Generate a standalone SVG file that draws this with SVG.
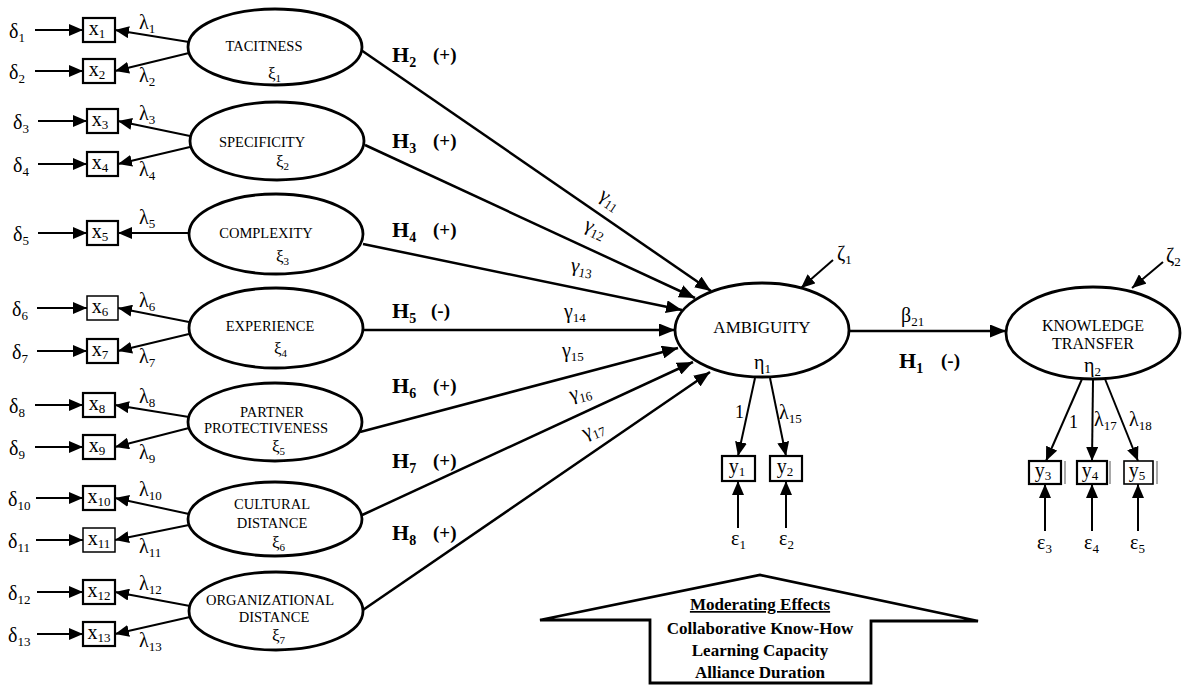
<svg xmlns="http://www.w3.org/2000/svg" width="1184" height="686" viewBox="0 0 1184 686">
<defs>
<style>
text{font-family:"Liberation Serif","Times New Roman",serif;fill:#000}
.el{fill:#fff;stroke:#000;stroke-width:2.8}
.bx{fill:#fff;stroke:#000;stroke-width:2.2}
.ln{stroke:#000;stroke-width:2;fill:none;marker-end:url(#ah)}
.pt{stroke:#000;stroke-width:2.5;fill:none;marker-end:url(#ahL)}
.gk{font-size:20px}
.sb{font-size:13px}
.xi{font-size:17px}
.xs{font-size:11px}
.cap{font-size:14.5px;text-anchor:middle}
.big{font-size:17px;text-anchor:middle}
.big2{font-size:16px;text-anchor:middle}
.ind{font-size:20px;text-anchor:middle}
.hb{font-size:22px;font-weight:bold}
.hs{font-size:14px;font-weight:bold}
.sg{font-size:19px;font-weight:bold}
.mod{font-size:17px;font-weight:bold;text-anchor:middle}
</style>
<marker id="ah" viewBox="0 0 14 12" refX="14" refY="6" markerWidth="14" markerHeight="12" markerUnits="userSpaceOnUse" orient="auto"><path d="M0,0 L14,6 L0,12 z"/></marker>
<marker id="ahL" viewBox="0 0 16 13" refX="16" refY="6.5" markerWidth="16" markerHeight="13" markerUnits="userSpaceOnUse" orient="auto"><path d="M0,0 L16,6.5 L0,13 z"/></marker>
</defs>
<rect width="1184" height="686" fill="#fff"/>

<g id="connectors">
<line class="ln" x1="35" y1="30" x2="83" y2="30"/>
<line class="ln" x1="35" y1="71" x2="83" y2="71"/>
<line class="ln" x1="38" y1="121" x2="87" y2="121"/>
<line class="ln" x1="38" y1="164" x2="87" y2="164"/>
<line class="ln" x1="38" y1="233" x2="87" y2="233"/>
<line class="ln" x1="37" y1="308" x2="87" y2="308"/>
<line class="ln" x1="37" y1="351" x2="87" y2="351"/>
<line class="ln" x1="35" y1="405" x2="83" y2="405"/>
<line class="ln" x1="35" y1="447" x2="83" y2="447"/>
<line class="ln" x1="36" y1="498" x2="83" y2="498"/>
<line class="ln" x1="36" y1="540" x2="83" y2="540"/>
<line class="ln" x1="37" y1="592" x2="83" y2="592"/>
<line class="ln" x1="37" y1="634" x2="83" y2="634"/>
<line class="ln" x1="189" y1="42" x2="115" y2="30"/>
<line class="ln" x1="189" y1="53" x2="115" y2="71"/>
<line class="ln" x1="190" y1="136" x2="118" y2="121"/>
<line class="ln" x1="190" y1="147" x2="118" y2="164"/>
<line class="ln" x1="189" y1="233" x2="118" y2="233"/>
<line class="ln" x1="189" y1="322" x2="118" y2="308"/>
<line class="ln" x1="189" y1="334" x2="118" y2="351"/>
<line class="ln" x1="189" y1="417" x2="115" y2="405"/>
<line class="ln" x1="189" y1="428" x2="115" y2="447"/>
<line class="ln" x1="189" y1="514" x2="115" y2="498"/>
<line class="ln" x1="189" y1="525" x2="115" y2="540"/>
<line class="ln" x1="190" y1="606" x2="115" y2="592"/>
<line class="ln" x1="190" y1="617" x2="115" y2="634"/>
<line class="pt" x1="361" y1="50" x2="711" y2="291"/>
<line class="pt" x1="365" y1="145" x2="695" y2="298"/>
<line class="pt" x1="363" y1="244" x2="682" y2="310"/>
<line class="pt" x1="362" y1="330" x2="675" y2="330"/>
<line class="pt" x1="360" y1="432" x2="678" y2="348"/>
<line class="pt" x1="360" y1="516" x2="693" y2="362"/>
<line class="pt" x1="360" y1="612" x2="710" y2="372"/>
<line class="pt" x1="850" y1="331" x2="1006" y2="331"/>
<line class="ln" x1="833" y1="260" x2="801" y2="288"/>
<line class="ln" x1="1163" y1="262" x2="1132" y2="288"/>
<line class="ln" x1="755" y1="378" x2="738" y2="456"/>
<line class="ln" x1="770" y1="378" x2="786" y2="456"/>
<line class="ln" x1="1082" y1="379" x2="1046" y2="461"/>
<line class="ln" x1="1093" y1="380" x2="1092" y2="461"/>
<line class="ln" x1="1105" y1="379" x2="1138" y2="461"/>
<line class="ln" x1="738" y1="528" x2="738" y2="481"/>
<line class="ln" x1="786" y1="528" x2="786" y2="481"/>
<line class="ln" x1="1045" y1="531" x2="1045" y2="484"/>
<line class="ln" x1="1092" y1="531" x2="1092" y2="484"/>
<line class="ln" x1="1138" y1="531" x2="1138" y2="484"/>
</g>

<g id="delta-labels">
<text class="gk" x="9" y="38">δ<tspan class="sb" dy="4">1</tspan></text>
<text class="gk" x="9" y="79">δ<tspan class="sb" dy="4">2</tspan></text>
<text class="gk" x="13" y="129">δ<tspan class="sb" dy="4">3</tspan></text>
<text class="gk" x="13" y="172">δ<tspan class="sb" dy="4">4</tspan></text>
<text class="gk" x="13" y="241">δ<tspan class="sb" dy="4">5</tspan></text>
<text class="gk" x="12" y="316">δ<tspan class="sb" dy="4">6</tspan></text>
<text class="gk" x="12" y="359">δ<tspan class="sb" dy="4">7</tspan></text>
<text class="gk" x="9" y="413">δ<tspan class="sb" dy="4">8</tspan></text>
<text class="gk" x="9" y="455">δ<tspan class="sb" dy="4">9</tspan></text>
<text class="gk" x="8" y="506">δ<tspan class="sb" dy="4">10</tspan></text>
<text class="gk" x="8" y="548">δ<tspan class="sb" dy="4">11</tspan></text>
<text class="gk" x="8" y="600">δ<tspan class="sb" dy="4">12</tspan></text>
<text class="gk" x="8" y="642">δ<tspan class="sb" dy="4">13</tspan></text>
</g>

<g id="lambda-labels">
<text class="gk" x="139" y="29">λ<tspan class="sb" dy="4">1</tspan></text>
<text class="gk" x="139" y="82">λ<tspan class="sb" dy="4">2</tspan></text>
<text class="gk" x="139" y="120">λ<tspan class="sb" dy="4">3</tspan></text>
<text class="gk" x="139" y="176">λ<tspan class="sb" dy="4">4</tspan></text>
<text class="gk" x="139" y="224">λ<tspan class="sb" dy="4">5</tspan></text>
<text class="gk" x="139" y="307">λ<tspan class="sb" dy="4">6</tspan></text>
<text class="gk" x="139" y="363">λ<tspan class="sb" dy="4">7</tspan></text>
<text class="gk" x="139" y="403">λ<tspan class="sb" dy="4">8</tspan></text>
<text class="gk" x="139" y="459">λ<tspan class="sb" dy="4">9</tspan></text>
<text class="gk" x="139" y="496">λ<tspan class="sb" dy="4">10</tspan></text>
<text class="gk" x="139" y="553">λ<tspan class="sb" dy="4">11</tspan></text>
<text class="gk" x="139" y="590">λ<tspan class="sb" dy="4">12</tspan></text>
<text class="gk" x="139" y="647">λ<tspan class="sb" dy="4">13</tspan></text>
</g>

<g id="x-indicators">
<rect class="bx" x="83" y="18" width="32" height="24"/><text class="ind" x="97" y="35">x<tspan class="sb" dy="3">1</tspan></text>
<rect class="bx" x="83" y="59" width="32" height="24"/><text class="ind" x="97" y="76">x<tspan class="sb" dy="3">2</tspan></text>
<rect class="bx" x="87" y="109" width="31" height="24"/><text class="ind" x="100" y="126">x<tspan class="sb" dy="3">3</tspan></text>
<rect class="bx" x="87" y="152" width="31" height="24"/><text class="ind" x="100" y="169">x<tspan class="sb" dy="3">4</tspan></text>
<rect class="bx" x="87" y="221" width="31" height="24"/><text class="ind" x="100" y="238">x<tspan class="sb" dy="3">5</tspan></text>
<rect class="bx" x="87" y="296" width="31" height="24" style="stroke-width:1.5"/><text class="ind" x="100" y="313">x<tspan class="sb" dy="3">6</tspan></text>
<rect class="bx" x="87" y="339" width="31" height="24"/><text class="ind" x="100" y="356">x<tspan class="sb" dy="3">7</tspan></text>
<rect class="bx" x="83" y="393" width="32" height="24"/><text class="ind" x="97" y="410">x<tspan class="sb" dy="3">8</tspan></text>
<rect class="bx" x="83" y="435" width="32" height="24"/><text class="ind" x="97" y="452">x<tspan class="sb" dy="3">9</tspan></text>
<rect class="bx" x="83" y="486" width="32" height="24"/><text class="ind" x="99" y="503">x<tspan class="sb" dy="3">10</tspan></text>
<rect class="bx" x="83" y="528" width="32" height="24" style="stroke-width:1.5"/><text class="ind" x="99" y="545">x<tspan class="sb" dy="3">11</tspan></text>
<rect class="bx" x="83" y="580" width="32" height="24"/><text class="ind" x="99" y="597">x<tspan class="sb" dy="3">12</tspan></text>
<rect class="bx" x="83" y="622" width="32" height="24"/><text class="ind" x="99" y="639">x<tspan class="sb" dy="3">13</tspan></text>
</g>

<g id="tacitness">
<ellipse class="el" cx="275" cy="47" rx="87" ry="38"/>
<text class="cap" x="264" y="51">TACITNESS</text>
<text class="xi" x="268" y="79">ξ<tspan class="xs" dy="3">1</tspan></text>
</g>
<g id="specificity">
<ellipse class="el" cx="277" cy="141" rx="87" ry="39"/>
<text class="cap" x="262" y="147">SPECIFICITY</text>
<text class="xi" x="276" y="167">ξ<tspan class="xs" dy="3">2</tspan></text>
</g>
<g id="complexity">
<ellipse class="el" cx="276" cy="234" rx="87" ry="40"/>
<text class="cap" x="266" y="238">COMPLEXITY</text>
<text class="xi" x="276" y="262">ξ<tspan class="xs" dy="3">3</tspan></text>
</g>
<g id="experience">
<ellipse class="el" cx="276" cy="328" rx="87" ry="40"/>
<text class="cap" x="270" y="331">EXPERIENCE</text>
<text class="xi" x="274" y="354">ξ<tspan class="xs" dy="3">4</tspan></text>
</g>
<g id="partner">
<ellipse class="el" cx="275" cy="422" rx="87" ry="39"/>
<text class="cap" x="272" y="417">PARTNER</text>
<text class="cap" x="266" y="433">PROTECTIVENESS</text>
<text class="xi" x="272" y="452">ξ<tspan class="xs" dy="3">5</tspan></text>
</g>
<g id="cultural">
<ellipse class="el" cx="275" cy="519" rx="87" ry="37"/>
<text class="cap" x="272" y="509">CULTURAL</text>
<text class="cap" x="272" y="528">DISTANCE</text>
<text class="xi" x="272" y="548">ξ<tspan class="xs" dy="3">6</tspan></text>
</g>
<g id="organizational">
<ellipse class="el" cx="276" cy="611" rx="87" ry="39"/>
<text class="cap" x="270" y="605">ORGANIZATIONAL</text>
<text class="cap" x="274" y="622">DISTANCE</text>
<text class="xi" x="272" y="641">ξ<tspan class="xs" dy="3">7</tspan></text>
</g>

<g id="hypotheses">
<text class="hb" x="392" y="62">H<tspan class="hs" dy="5">2</tspan></text><text class="sg" x="433" y="61">(+)</text>
<text class="hb" x="392" y="148">H<tspan class="hs" dy="5">3</tspan></text><text class="sg" x="433" y="147">(+)</text>
<text class="hb" x="392" y="237">H<tspan class="hs" dy="5">4</tspan></text><text class="sg" x="433" y="236">(+)</text>
<text class="hb" x="392" y="318">H<tspan class="hs" dy="5">5</tspan></text><text class="sg" x="431" y="317">(-)</text>
<text class="hb" x="392" y="393">H<tspan class="hs" dy="5">6</tspan></text><text class="sg" x="433" y="392">(+)</text>
<text class="hb" x="392" y="468">H<tspan class="hs" dy="5">7</tspan></text><text class="sg" x="433" y="467">(+)</text>
<text class="hb" x="392" y="540">H<tspan class="hs" dy="5">8</tspan></text><text class="sg" x="433" y="539">(+)</text>
</g>

<g id="gamma-labels">
<text class="gk" transform="translate(598,198) rotate(34)">γ<tspan class="sb" dy="4">11</tspan></text>
<text class="gk" transform="translate(583,229) rotate(25)">γ<tspan class="sb" dy="4">12</tspan></text>
<text class="gk" transform="translate(570,271) rotate(10)">γ<tspan class="sb" dy="4">13</tspan></text>
<text class="gk" x="564" y="318">γ<tspan class="sb" dy="4">14</tspan></text>
<text class="gk" x="562" y="357">γ<tspan class="sb" dy="4">15</tspan></text>
<text class="gk" transform="translate(571,401) rotate(-14)">γ<tspan class="sb" dy="4">16</tspan></text>
<text class="gk" transform="translate(585,439) rotate(-22)">γ<tspan class="sb" dy="4">17</tspan></text>
</g>

<g id="ambiguity">
<ellipse class="el" cx="762" cy="330" rx="87" ry="47"/>
<text class="big" x="762" y="333">AMBIGUITY</text>
<text class="gk" x="754" y="369">η<tspan class="sb" dy="4">1</tspan></text>
<text class="gk" x="837" y="260">ζ<tspan class="sb" dy="4">1</tspan></text>
</g>

<g id="structural-labels">
<text class="gk" x="901" y="322">β<tspan class="sb" dy="4">21</tspan></text>
<text class="hb" x="899" y="368">H<tspan class="hs" dy="5">1</tspan></text><text class="sg" x="941" y="367">(-)</text>
</g>

<g id="knowledge-transfer">
<ellipse class="el" cx="1093" cy="333" rx="87" ry="46"/>
<text class="big2" x="1093" y="331">KNOWLEDGE</text>
<text class="big2" x="1093" y="349">TRANSFER</text>
<text class="gk" x="1084" y="372">η<tspan class="sb" dy="4">2</tspan></text>
<text class="gk" x="1166" y="262">ζ<tspan class="sb" dy="4">2</tspan></text>
</g>

<g id="y-indicators">
<text style="font-size:18px" x="735" y="418">1</text>
<text class="gk" x="779" y="419">λ<tspan class="sb" dy="4">15</tspan></text>
<text style="font-size:18px" x="1069" y="428">1</text>
<text class="gk" x="1094" y="426">λ<tspan class="sb" dy="4">17</tspan></text>
<text class="gk" x="1129" y="426">λ<tspan class="sb" dy="4">18</tspan></text>
<rect class="bx" x="722" y="456" width="33" height="25"/><text class="ind" x="737" y="473">y<tspan class="sb" dy="3">1</tspan></text>
<rect class="bx" x="770" y="456" width="32" height="25"/><text class="ind" x="785" y="473">y<tspan class="sb" dy="3">2</tspan></text>
<rect class="bx" x="1029" y="461" width="32" height="23"/><text class="ind" x="1043" y="477">y<tspan class="sb" dy="3">3</tspan></text>
<line x1="1065" y1="461" x2="1065" y2="484" stroke="#555" stroke-width="1"/>
<rect class="bx" x="1077" y="461" width="30" height="23"/><text class="ind" x="1090" y="477">y<tspan class="sb" dy="3">4</tspan></text>
<line x1="1110" y1="461" x2="1110" y2="484" stroke="#555" stroke-width="1"/>
<rect class="bx" x="1124" y="461" width="29" height="23" style="stroke-width:1.6"/><text class="ind" x="1137" y="477">y<tspan class="sb" dy="3">5</tspan></text>
<line x1="1157" y1="461" x2="1157" y2="484" stroke="#555" stroke-width="1"/>
<text class="gk" x="731" y="545">ε<tspan class="sb" dy="4">1</tspan></text>
<text class="gk" x="779" y="545">ε<tspan class="sb" dy="4">2</tspan></text>
<text class="gk" x="1037" y="549">ε<tspan class="sb" dy="4">3</tspan></text>
<text class="gk" x="1084" y="549">ε<tspan class="sb" dy="4">4</tspan></text>
<text class="gk" x="1130" y="549">ε<tspan class="sb" dy="4">5</tspan></text>
</g>

<g id="moderating-effects">
<polygon points="650,683 650,620 540,620 760,575 978,621 871,621 871,683" fill="#fff" stroke="#000" stroke-width="2.8" stroke-linejoin="miter"/>
<text class="mod" x="760" y="610" text-decoration="underline">Moderating Effects</text>
<text class="mod" x="760" y="634">Collaborative Know-How</text>
<text class="mod" x="760" y="656">Learning Capacity</text>
<text class="mod" x="760" y="678">Alliance Duration</text>
</g>
</svg>
